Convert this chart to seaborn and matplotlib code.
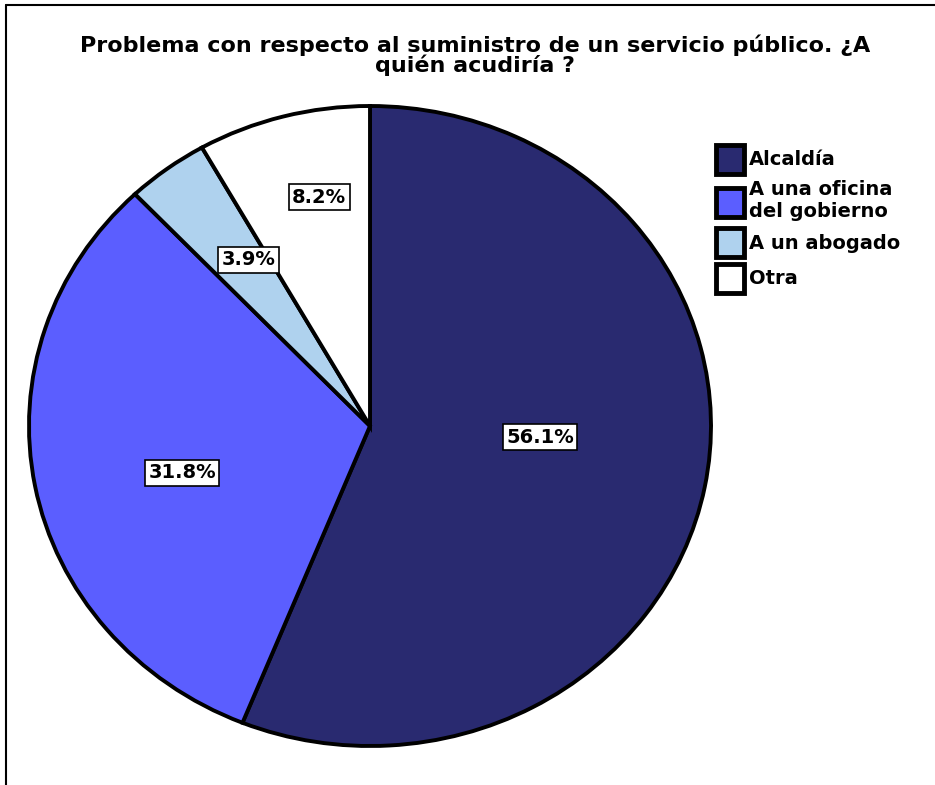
import matplotlib
matplotlib.use("Agg")
import matplotlib.pyplot as plt
import seaborn as sns
import numpy as np
from matplotlib.lines import Line2D

# datos
categorias = ["Alcaldía", "A una oficina\ndel gobierno", "A un abogado", "Otra"]
porcentajes = [56.1, 31.8, 3.9, 8.2]
colores = ["#292A70", "#5B5EFF", "#AFD2EE", "#FFFFFF"]
# posicion de etiquetas (distancia radial, desplazamiento angular en grados)
distancias_etiqueta = [0.50, 0.57, 0.63, 0.73]
giros_etiqueta = [7, 4, -2, -3]
titulo = "Problema con respecto al suministro de un servicio público. ¿A\nquién acudiría ?"

sns.set_theme(style="white")
plt.rcParams['font.family'] = ['DejaVu Sans']
plt.rcParams['text.color'] = 'black'

W, H = 935, 785
fig = plt.figure(figsize=(W / 100, H / 100), dpi=100)

# eje en pixeles (centro 370,426 ; radios 341 x 320)
m = 1.05
cx, cy, rx, ry = 370, 426, 341, 320
ax = fig.add_axes([(cx - rx * m) / W, (H - cy - ry * m) / H, 2 * rx * m / W, 2 * ry * m / H])

wedges, textos, autotextos = ax.pie(
    porcentajes, colors=colores, startangle=90, counterclock=False,
    autopct="%1.1f%%", pctdistance=0.6,
    wedgeprops=dict(edgecolor="black", linewidth=2.8),
    textprops=dict(fontsize=14, fontweight="bold", color="black"))
ax.set_aspect("auto")
ax.set_xlim(-m, m)
ax.set_ylim(-m, m)

# etiquetas con caja
for w, t, d, g in zip(wedges, autotextos, distancias_etiqueta, giros_etiqueta):
    ang = np.deg2rad((w.theta1 + w.theta2) / 2 + g)
    t.set_position((d * np.cos(ang), d * np.sin(ang)))
    t.set_bbox(dict(boxstyle="square,pad=0.18", facecolor="white", edgecolor="black", linewidth=1.2))

fig.text(475 / W, 1 - 55 / H, titulo, ha="center", va="center", fontsize=16,
         fontweight="heavy", linespacing=0.9)

leg = fig.legend(wedges, categorias, loc="upper left", bbox_to_anchor=(708 / W, 1 - 137 / H),
                 frameon=False, prop=dict(size=14, weight="bold"),
                 handlelength=1.45, handleheight=1.9, handletextpad=0.25,
                 labelspacing=0.35, borderaxespad=0)
for h in leg.legend_handles:
    h.set_linewidth(3.5)

# marco
fig.add_artist(Line2D([6 / W, 1], [1 - 5 / H, 1 - 5 / H], color="black", linewidth=1.5))
fig.add_artist(Line2D([6 / W, 6 / W], [0, 1 - 5 / H], color="black", linewidth=1.5))

fig.savefig("out.png", dpi=100)
